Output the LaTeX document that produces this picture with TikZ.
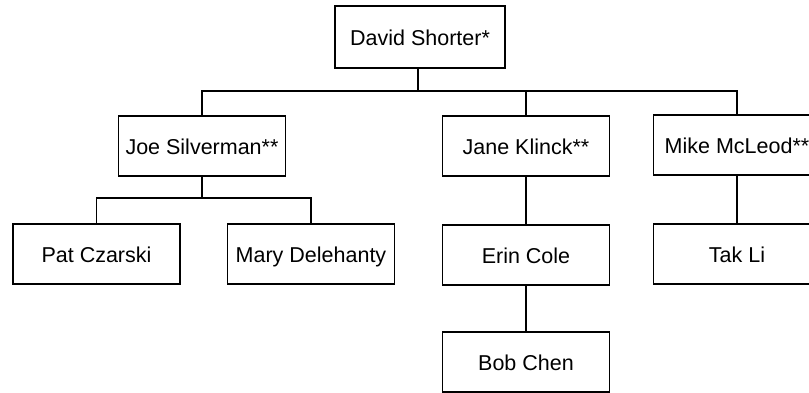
\documentclass[tikz,border=0pt]{standalone}
\usepackage{fontspec}
\setmainfont{Liberation Sans}
\usepackage{tikz}
\usetikzlibrary{positioning}

\begin{document}
\begin{tikzpicture}[
            x=1pt, y=-1pt,
            person/.style={draw, line width=1.5pt, minimum width=167pt, minimum height=60pt,
                inner sep=0pt, text height=16.5pt, text depth=0pt,
                font=\fontsize{21.5}{24}\selectfont},
            link/.style={draw, line width=1.6pt}
        ]
        \useasboundingbox (0,0) rectangle (809,392);
        \clip (0,0) rectangle (809,392);
        \node[person, minimum width=170pt, minimum height=62pt] (david) at (420,37) {David Shorter*};
        \node[person] (joe) at (202,146) {Joe Silverman**};
        \node[person] (jane) at (526,146) {Jane Klinck**};
        \node[person] (mike) at (737,145) {Mike McLeod**};
        \node[person] (pat) at (96.5,254) {Pat Czarski};
        \node[person] (mary) at (311,254) {Mary Delehanty};
        \node[person] (erin) at (526,255) {Erin Cole};
        \node[person] (tak) at (737,254) {Tak Li};
        \node[person] (bob) at (526,362) {Bob Chen};
        \coordinate (topbar) at (418,91);
        \coordinate (joebar) at (202,198);
        \draw[link] (david.south -| topbar) -- (topbar);
        \draw[link] (joe.north) -- (joe.north |- topbar) -- (mike.north |- topbar) -- (mike.north);
        \draw[link] (jane.north) -- (jane.north |- topbar);
        \draw[link] (joe.south) -- (joebar);
        \draw[link] (pat.north) -- (pat.north |- joebar) -- (mary.north |- joebar) -- (mary.north);
        \draw[link] (jane.south) -- (erin.north);
        \draw[link] (erin.south) -- (bob.north);
        \draw[link] (mike.south) -- (tak.north);
\end{tikzpicture}
\end{document}
